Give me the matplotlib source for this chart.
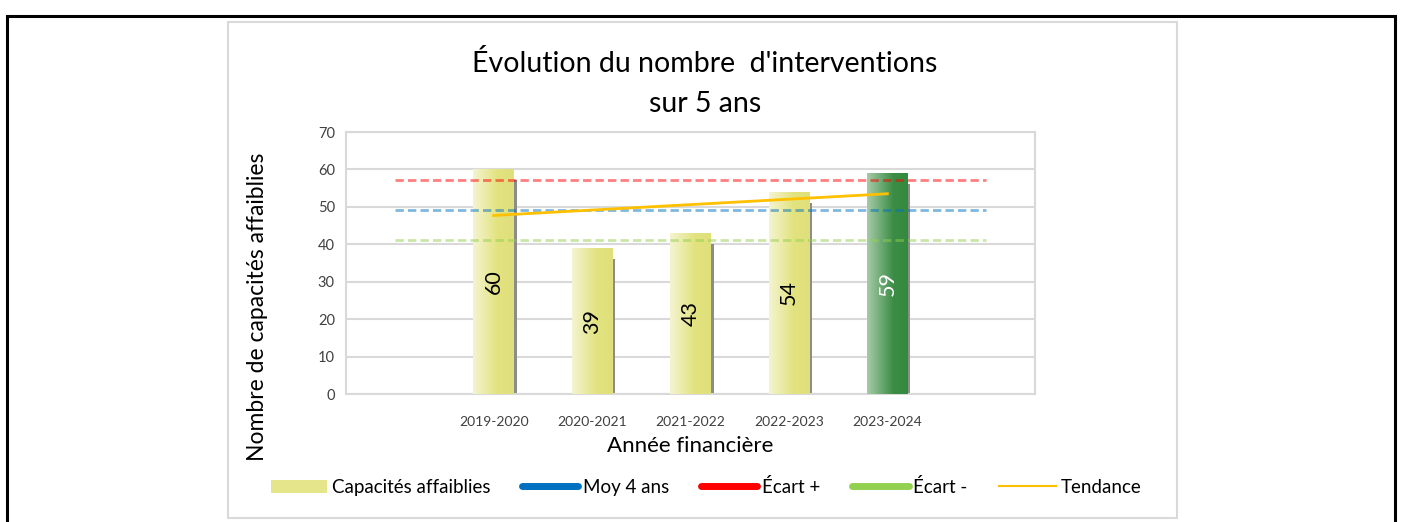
import numpy as np
import matplotlib
matplotlib.use('Agg')
import matplotlib.pyplot as plt
from matplotlib.patches import Rectangle, Patch
from matplotlib.lines import Line2D
from matplotlib.colors import LinearSegmentedColormap

plt.rcParams['font.family'] = ['Lato', 'DejaVu Sans']

# ── Data ─────────────────────────────────────────────
years = ['', '2019-2020', '2020-2021', '2021-2022', '2022-2023', '2023-2024', '']
counts = [60, 39, 43, 54, 59]
moy_4_ans = 49.2
ecart_plus = 57.3
ecart_moins = 41.1
tendance = [47.7, 53.5]   # trend line, first and last year

W, H = 1401, 522
fig = plt.figure(figsize=(W / 100, H / 100), dpi=100)

# outer page frame + chart box
fig.add_artist(Rectangle((7 / W, -0.02), (1395 - 7) / W, 1.02 - 16 / H,
                         transform=fig.transFigure, fill=False,
                         ec='black', lw=2.2))
fig.add_artist(Rectangle((228 / W, 1 - 518 / H), (1177 - 228) / W, (518 - 22) / H,
                         transform=fig.transFigure, fill=False,
                         ec='#d9d9d9', lw=1.5))

ax = fig.add_axes([346 / W, 1 - 394 / H, (1035 - 346) / W, (394 - 132) / H])

x_all = np.arange(len(years))
bar_x = x_all[1:-1]
bw = 0.41

yellow = LinearSegmentedColormap.from_list(
    'yel', [(0, '#f4f4d2'), (0.6, '#e2e37f'), (1, '#dfe07a')])
green = LinearSegmentedColormap.from_list(
    'grn', [(0, '#a6cba8'), (0.65, '#3b8d45'), (1, '#338a3e')])
grad = np.linspace(0, 1, 256).reshape(1, -1)

for i, (x, v) in enumerate(zip(bar_x, counts)):
    last = i == len(counts) - 1
    # drop shadow
    ax.add_patch(Rectangle((x - bw / 2 + 0.03, 0), bw, v - 2.9,
                           fc='#8c8c8c', ec='none', zorder=2))
    rect = Rectangle((x - bw / 2, 0), bw, v, fc='none', ec='none', zorder=3)
    ax.add_patch(rect)
    im = ax.imshow(grad, extent=[x - bw / 2, x + bw / 2, 0, v],
                   cmap=green if last else yellow, aspect='auto', zorder=3)
    im.set_clip_path(rect)
    ax.text(x, v / 2, str(v), rotation=90, ha='center', va='center',
            fontsize=15.5, color='white' if last else 'black', zorder=6)

# reference lines
ax.plot([x_all[0], x_all[-1]], [ecart_plus] * 2, color='#ff0000', alpha=0.5,
        lw=2, ls=(0, (3, 1.5)), zorder=4)
ax.plot([x_all[0], x_all[-1]], [moy_4_ans] * 2, color='#0070c0', alpha=0.5,
        lw=2, ls=(0, (3, 1.5)), zorder=4)
ax.plot([x_all[0], x_all[-1]], [ecart_moins] * 2, color='#92d050', alpha=0.5,
        lw=2, ls=(0, (3, 1.5)), zorder=4)
ax.plot([bar_x[0], bar_x[-1]], tendance, color='#ffc000', lw=2, zorder=5)

ax.set_xlim(-0.5, len(years) - 0.5)
ax.set_ylim(0, 70)
ax.set_yticks(range(0, 71, 10))
ax.set_xticks(x_all)
ax.set_xticklabels(years)
ax.tick_params(length=0, labelsize=10.5, colors='#404040', pad=8)
ax.tick_params(axis='x', pad=16, labelsize=10)
ax.grid(axis='y', color='#d9d9d9', lw=1.5, zorder=0)
ax.set_axisbelow(True)
for s in ax.spines.values():
    s.set_color('#d9d9d9')
    s.set_linewidth(1.5)

fig.text(690 / W, 1 - 446 / H, 'Année financière', ha='center', va='center',
         fontsize=16)
fig.text(258 / W, 1 - 307 / H, 'Nombre de capacités affaiblies', ha='center',
         va='center', rotation=90, fontsize=16.5)

fig.text(705 / W, 1 - 63 / H, "Évolution du nombre  d'interventions",
         ha='center', va='center', fontsize=20.5)
fig.text(705 / W, 1 - 104 / H, 'sur 5 ans', ha='center', va='center',
         fontsize=20.5)

handles = [
    Patch(fc='#e5e68c', ec='none', label='Capacités affaiblies'),
    Line2D([], [], color='#0070c0', lw=5, solid_capstyle='round', label='Moy 4 ans'),
    Line2D([], [], color='#ff0000', lw=5, solid_capstyle='round', label='Écart +'),
    Line2D([], [], color='#92d050', lw=5, solid_capstyle='round', label='Écart -'),
    Line2D([], [], color='#ffc000', lw=1.5, label='Tendance'),
]
fig.legend(handles=handles, loc='center', bbox_to_anchor=(706 / W, 1 - 487 / H),
           ncol=5, frameon=False, fontsize=13.5, handlelength=3.0,
           handletextpad=0.25, columnspacing=1.7)

fig.savefig('out.png', dpi=100)
